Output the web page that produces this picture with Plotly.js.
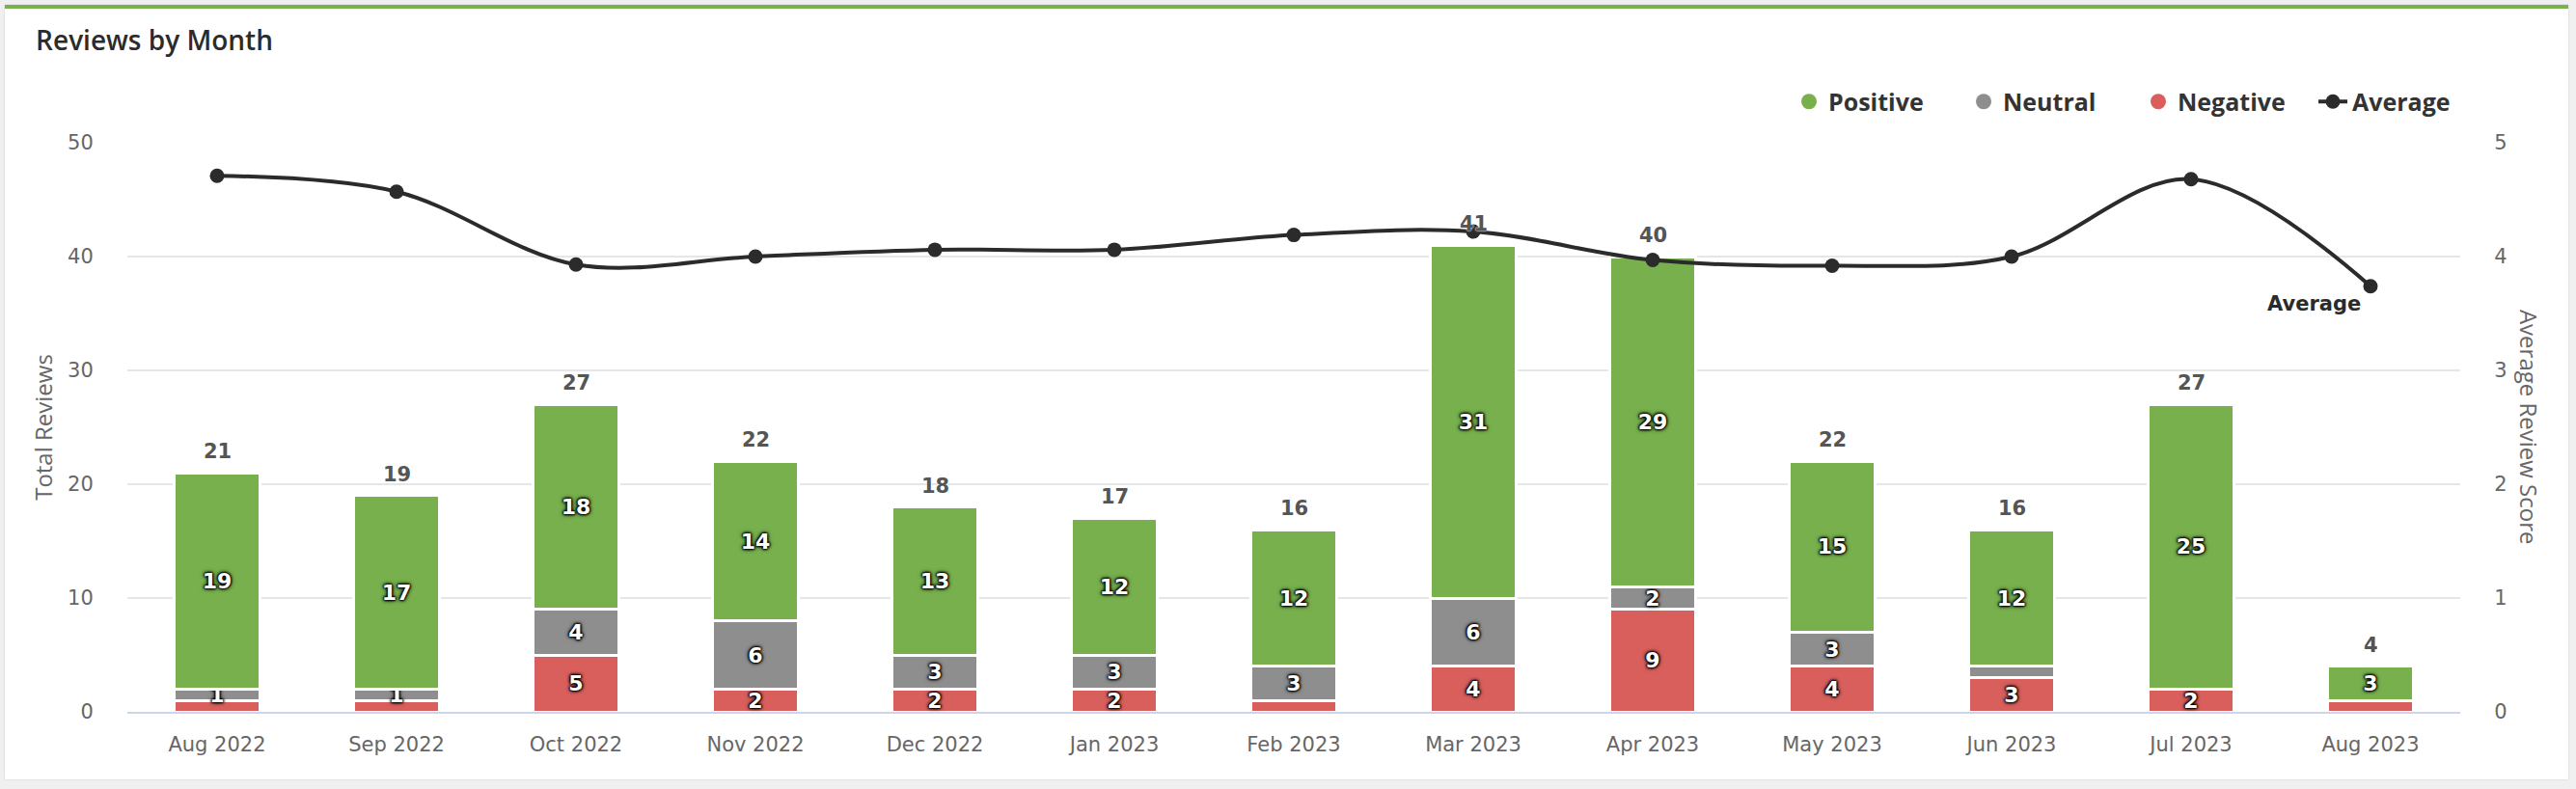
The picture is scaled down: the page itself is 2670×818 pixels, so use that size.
<!DOCTYPE html>
<html>
<head>
<meta charset="utf-8">
<script src="https://cdn.plot.ly/plotly-3.0.1.min.js"></script>
<style>
  html, body { margin: 0; padding: 0; background: #f0f0f0; }
  #card {
    position: absolute; left: 5px; top: 5px; width: 2657px; height: 803px;
    background: #fff; border-top: 4px solid #77b24c; box-sizing: border-box;
    box-shadow: 0 0 2px rgba(0,0,0,0.15);
  }
  #chart { position: absolute; left: 0; top: 0; width: 2670px; height: 818px; }
</style>
</head>
<body>
<div id="card"></div>
<div id="chart"></div>
<script>
// Monthly review counts by sentiment, plus the average score per month
const months = ['Aug 2022', 'Sep 2022', 'Oct 2022', 'Nov 2022', 'Dec 2022', 'Jan 2023', 'Feb 2023',
                'Mar 2023', 'Apr 2023', 'May 2023', 'Jun 2023', 'Jul 2023', 'Aug 2023'];
const positive = [19, 17, 18, 14, 13, 12, 12, 31, 29, 15, 12, 25, 3];
const neutral  = [1, 1, 4, 6, 3, 3, 3, 6, 2, 3, 1, 0, 0];
const negative = [1, 1, 5, 2, 2, 2, 1, 4, 9, 4, 3, 2, 1];
const averageScore = [4.71, 4.57, 3.93, 4.0, 4.06, 4.06, 4.19, 4.22, 3.97, 3.92, 4.0, 4.68, 3.74];

// Segment labels left off where they would crowd a thin bar
const hiddenLabels = {
  negative: ['Aug 2022', 'Sep 2022', 'Feb 2023', 'Aug 2023'],
  neutral: ['Jun 2023'],
  positive: []
};

const COLORS = { positive: '#77b04d', neutral: '#8e8e8e', negative: '#d95f5c', average: '#2b2b2b' };
const totals = months.map((m, i) => positive[i] + neutral[i] + negative[i]);

function segmentText(values, key) {
  return values.map((v, i) => (v > 0 && !hiddenLabels[key].includes(months[i])) ? String(v) : '');
}

const labelFont = {
  family: 'DejaVu Sans', size: 22, color: '#ffffff', weight: 'bold',
  shadow: '0 0 2px #000, 0 0 2px #000, 0 0 3px #000, 0 0 3px #000, 0 0 5px #000'
};

function barTrace(name, key, values) {
  return {
    type: 'bar', name: name, x: months, y: values,
    text: segmentText(values, key),
    textposition: 'inside', insidetextanchor: 'middle', textangle: 0,
    constraintext: 'none', textfont: labelFont, cliponaxis: false,
    marker: { color: COLORS[key], line: { color: '#ffffff', width: 3 } },
    legendgroup: key, showlegend: false, hoverinfo: 'skip'
  };
}

// Legend entries drawn as round swatches
function legendSwatch(name, key) {
  return {
    type: 'scatter', mode: 'markers', name: name, x: [null], y: [null],
    marker: { symbol: 'circle', size: 16, color: COLORS[key] },
    legendgroup: key, hoverinfo: 'skip'
  };
}

const data = [
  barTrace('Negative', 'negative', negative),
  barTrace('Neutral', 'neutral', neutral),
  barTrace('Positive', 'positive', positive),
  legendSwatch('Positive', 'positive'),
  legendSwatch('Neutral', 'neutral'),
  legendSwatch('Negative', 'negative'),
  {
    type: 'scatter', mode: 'lines+markers', name: 'Average', x: months, y: averageScore,
    yaxis: 'y2', line: { color: COLORS.average, width: 4, shape: 'spline', smoothing: 1 },
    marker: { size: 15, color: COLORS.average }, cliponaxis: false, hoverinfo: 'skip'
  }
];

const tickFont = { family: 'DejaVu Sans', size: 21, color: '#666666' };
const axisTitleFont = { family: 'Open Sans', size: 24, color: '#666666' };

const annotations = months.map((m, i) => ({
  x: m, y: totals[i], xref: 'x', yref: 'y', text: String(totals[i]),
  showarrow: false, yanchor: 'bottom', yshift: 8,
  font: { family: 'DejaVu Sans', size: 21, color: '#555555', weight: 'bold',
          shadow: '0 0 2px #fff, 0 0 2px #fff' }
}));

// Series label next to the last point of the average line
const lastIdx = months.length - 1;
annotations.push({
  x: months[lastIdx], y: averageScore[lastIdx], xref: 'x', yref: 'y2',
  text: 'Average', showarrow: false, xanchor: 'right', yanchor: 'top',
  xshift: -8, yshift: -4,
  font: { family: 'DejaVu Sans', size: 21, color: '#2b2b2b', weight: 'bold' }
});

// Right-hand axis title, reading top to bottom
annotations.push({
  x: 1.0298, y: 0.5, xref: 'paper', yref: 'paper', xanchor: 'center', yanchor: 'middle',
  text: 'Average Review Score', showarrow: false, textangle: 90, font: axisTitleFont
});

const layout = {
  width: 2670, height: 818,
  paper_bgcolor: 'rgba(0,0,0,0)', plot_bgcolor: 'rgba(0,0,0,0)',
  margin: { l: 132, r: 120, t: 148, b: 80, pad: 0, autoexpand: false },
  barmode: 'stack', bargap: 0.52,
  title: {
    text: 'Reviews by Month', x: 0.0139, xref: 'container', xanchor: 'left',
    y: 0.949, yref: 'container', yanchor: 'middle', automargin: false,
    font: { family: 'Open Sans', size: 28, color: '#2b2b2b', weight: 600 }
  },
  showlegend: true,
  legend: {
    orientation: 'h', x: 1.012, xanchor: 'right', y: 1.072, yanchor: 'middle',
    xref: 'paper', yref: 'paper', entrywidth: 136,
    font: { family: 'Open Sans', size: 25, color: '#333333', weight: 700 },
    itemclick: false, itemdoubleclick: false
  },
  xaxis: {
    type: 'category', range: [-0.5, months.length - 0.5],
    showgrid: false, zeroline: false, automargin: false,
    showline: true, linecolor: '#ccd6eb', linewidth: 2,
    ticks: 'outside', ticklen: 14, tickcolor: 'rgba(0,0,0,0)',
    tickfont: tickFont, fixedrange: true
  },
  yaxis: {
    range: [0, 50], dtick: 10, showgrid: true, gridcolor: '#e6e6e6', gridwidth: 2,
    zeroline: false, showline: false, automargin: false,
    ticks: 'outside', ticklen: 30, tickcolor: 'rgba(0,0,0,0)',
    tickfont: tickFont, fixedrange: true,
    title: { text: 'Total Reviews', font: axisTitleFont, standoff: 8 }
  },
  yaxis2: {
    overlaying: 'y', side: 'right', range: [0, 5], dtick: 1,
    showgrid: false, zeroline: false, showline: false, automargin: false,
    ticks: 'outside', ticklen: 30, tickcolor: 'rgba(0,0,0,0)',
    tickfont: tickFont, fixedrange: true
  },
  annotations: annotations
};

Plotly.newPlot('chart', data, layout, { displayModeBar: false, staticPlot: true });
</script>
</body>
</html>
